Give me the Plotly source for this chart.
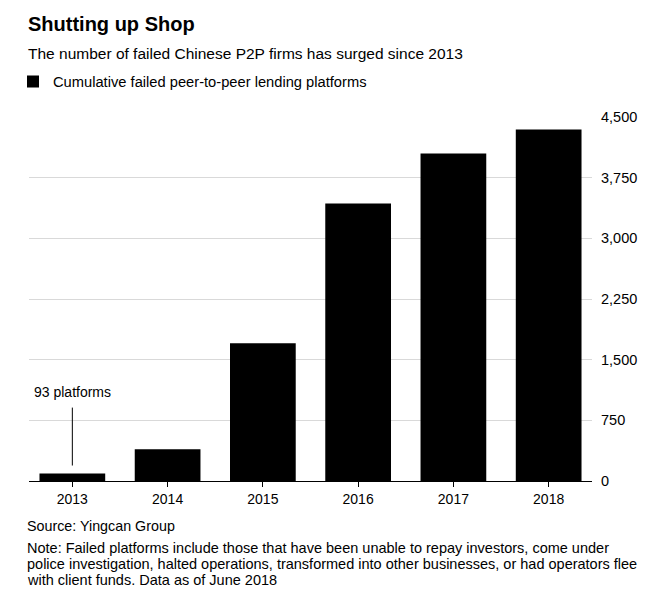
import plotly.graph_objects as go

years = ["2013", "2014", "2015", "2016", "2017", "2018"]
failed = [93, 392, 1704, 3430, 4048, 4344]
y_ticks = [0, 750, 1500, 2250, 3000, 3750, 4500]
note_lines = [
    "Note: Failed platforms include those that have been unable to repay investors, come under",
    "police investigation, halted operations, transformed into other businesses, or had operators flee",
    "with client funds. Data as of June 2018",
]

W, H = 670, 611
OFF = 8  # page body margin offset
# target pixel positions (reference coords)
PL, PR, PT, PB = 29, 592, 117, 481.5
L = PL - OFF
T = PT - OFF
PW = PR - PL
PH = PB - PT
R = W - L - PW
B = H - T - PH

def px(x):
    return (x - PL) / PW

def py(y):
    return (PB - y) / PH

FONT = "Liberation Sans, Arial, sans-serif"

fig = go.Figure()
fig.add_trace(go.Bar(
    x=years, y=failed,
    marker=dict(color="#000000", line=dict(width=0)),
    name="Cumulative failed peer-to-peer lending platforms",
    showlegend=True,
    hoverinfo="x+y",
))

annotations = [
    dict(text="<b>Shutting up Shop</b>", x=px(26), y=py(24), xanchor="left", yanchor="middle",
         font=dict(size=20, color="#000"), showarrow=False, xref="paper", yref="paper"),
    dict(text="The number of failed Chinese P2P firms has surged since 2013", x=px(26), y=py(53),
         xanchor="left", yanchor="middle", font=dict(size=15.5, color="#000"), showarrow=False,
         xref="paper", yref="paper"),
    dict(text="93 platforms", x=0, y=py(392), xref="x", yref="paper", xanchor="center",
         yanchor="middle", font=dict(size=14, color="#000"), showarrow=False),
    dict(text="Source: Yingcan Group", x=px(25), y=py(527), xanchor="left", yanchor="middle",
         font=dict(size=14.3, color="#000"), showarrow=False, xref="paper", yref="paper"),
]
for i, line in enumerate(note_lines):
    annotations.append(dict(text=line, x=px(25), y=py(549 + 16 * i), xanchor="left", yanchor="middle",
                            font=dict(size=14.5, color="#000"), showarrow=False,
                            xref="paper", yref="paper"))

shapes = [
    dict(type="line", xref="x", yref="paper", x0=0, x1=0, y0=py(408), y1=py(466),
         line=dict(color="#000", width=1)),
]

fig.update_layout(
    width=W, height=H,
    margin=dict(l=L, r=R, t=T, b=B, pad=0, autoexpand=False),
    plot_bgcolor="#ffffff", paper_bgcolor="#ffffff",
    font=dict(family=FONT, color="#000", size=14),
    bargap=0.31,
    showlegend=True,
    legend=dict(x=px(13), y=py(82), xanchor="left", yanchor="middle", orientation="h",
                font=dict(size=14.7, color="#000"), bgcolor="rgba(0,0,0,0)", itemwidth=30),
    xaxis=dict(
        type="category", range=[-0.455, 5.455], showline=True, linecolor="#000", linewidth=1,
        ticks="outside", ticklen=5, tickcolor="#000", tickwidth=1, showgrid=False,
        tickfont=dict(size=14, color="#000"), fixedrange=True,
    ),
    yaxis=dict(
        side="right", range=[0, 4500], tickvals=y_ticks, tickformat=",",
        showgrid=True, gridcolor="#d9d9d9", gridwidth=1, zeroline=False, showline=False,
        ticks="", tickfont=dict(size=14.5, color="#000"), ticklabelstandoff=8, fixedrange=True,
    ),
    annotations=annotations,
    shapes=shapes,
)

fig.write_html("out.html")
